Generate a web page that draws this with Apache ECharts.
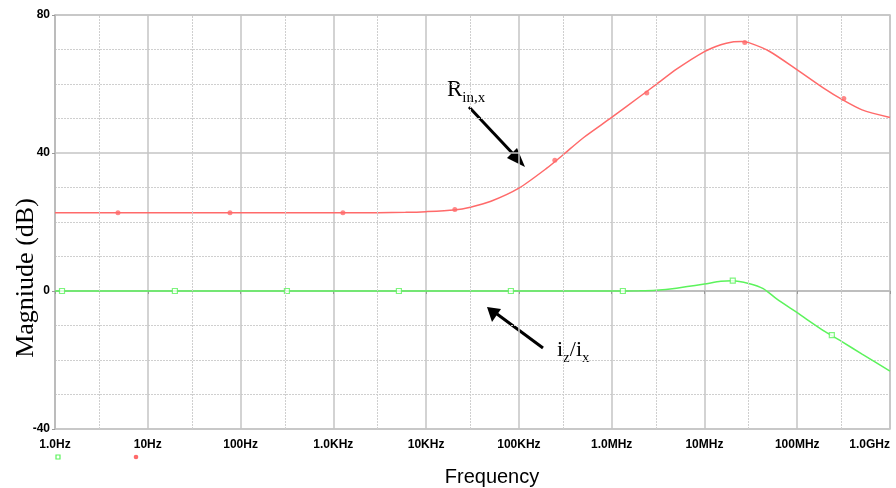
<!DOCTYPE html>
<html>
<head>
<meta charset="utf-8">
<script src="https://cdn.jsdelivr.net/npm/echarts@6/dist/echarts.min.js"></script>
<style>html,body{margin:0;padding:0;background:#fff;overflow:hidden}#c{width:896px;height:488px}</style>
</head>
<body>
<div id="c"></div>
<script>
// Frequencies (Hz) and magnitudes (dB)
const rinFreq = [1, 10, 100, 1e3, 3e3, 6e3, 1e4, 2e4, 3e4, 5e4, 1e5, 2e5, 3e5, 5e5, 1e6, 2e6, 3e6, 5e6, 1e7, 1.5e7, 2e7, 2.5e7, 3e7, 5e7, 1e8, 2e8, 3e8, 5e8, 1e9];
const rinDb   = [22.7, 22.7, 22.7, 22.7, 22.7, 22.8, 23.0, 23.5, 24.3, 26.0, 29.8, 35.6, 39.5, 44.5, 50.3, 56.3, 59.8, 64.3, 69.4, 71.4, 72.2, 72.3, 72.0, 69.5, 64.1, 58.5, 55.6, 52.5, 50.3];
const izFreq  = [1, 10, 100, 1e3, 1e4, 1e5, 1e6, 2e6, 3e6, 5e6, 1e7, 1.5e7, 2e7, 3e7, 4.3e7, 6e7, 1e8, 2e8, 3e8, 5e8, 1e9];
const izDb    = [0, 0, 0, 0, 0, 0, 0, 0.05, 0.2, 0.8, 2.0, 2.8, 3.0, 2.2, 0.7, -2.3, -6.3, -11.8, -14.6, -18.3, -23.2];
// symbol markers placed along the curves
const rinMarkFreq = [4.77, 76.9, 1268, 20400, 2.44e5, 2.39e6, 2.72e7, 3.18e8];
const rinMarkDb   = [22.7, 22.7, 22.7, 23.6, 37.9, 57.4, 72.0, 55.8];
const izMarkFreq  = [1.19, 19.6, 316, 5090, 8.2e4, 1.32e6, 2.02e7, 2.36e8];
const izMarkDb    = [0, 0, 0, 0, 0, 0, 3.0, -12.8];
// axis
const xTickLabels = ['1.0Hz', '10Hz', '100Hz', '1.0KHz', '10KHz', '100KHz', '1.0MHz', '10MHz', '100MHz', '1.0GHz'];
const xMinorGrid = [3, 30, 300, 3e3, 3e4, 3e5, 3e6, 3e7, 3e8];
const yTicks = [-40, 0, 40, 80];

const RED = '#ff6a6a', GREEN = '#5cf35c';
const zip = (a, b) => a.map((v, i) => [v, b[i]]);

const chart = echarts.init(document.getElementById('c'));
chart.setOption({
  animation: false,
  backgroundColor: '#fff',
  grid: { left: 55, right: 6, top: 15, bottom: 59, containLabel: false, outerBoundsMode: 'none',
          show: true, borderColor: '#c4c4c4', borderWidth: 1.5 },
  xAxis: {
    type: 'log', logBase: 10, min: 1, max: 1e9,
    axisLine: { lineStyle: { color: '#b8b8b8', width: 1.5 } },
    axisTick: { show: true, length: 3, lineStyle: { color: '#999' } },
    axisLabel: {
      margin: 10, color: '#000', fontWeight: 'bold', fontSize: 12, fontFamily: 'Liberation Sans, Arial',
      alignMaxLabel: 'right', hideOverlap: false,
      formatter: v => xTickLabels[Math.round(Math.log10(v))]
    },
    splitLine: { show: true, lineStyle: { color: '#c4c4c4', width: 1.5 } }
  },
  yAxis: {
    type: 'value', min: yTicks[0], max: yTicks[yTicks.length - 1], interval: 40,
    axisLine: { show: true, lineStyle: { color: '#b8b8b8', width: 1.5 } },
    axisTick: { show: true, length: 3, lineStyle: { color: '#999' } },
    axisLabel: { margin: 5, color: '#000', fontWeight: 'bold', fontSize: 12, fontFamily: 'Liberation Sans, Arial' },
    splitLine: { show: true, lineStyle: { color: '#c4c4c4', width: 1.5 } },
    minorTick: { show: false, splitNumber: 4 },
    minorSplitLine: { show: true, lineStyle: { color: '#cfcfcf', width: 1, type: [2, 1] } }
  },
  series: [
    {
      type: 'line', data: zip(rinFreq, rinDb), smooth: 0.25, showSymbol: false,
      lineStyle: { color: RED, width: 1.5 }, z: 3,
      markLine: {
        silent: true, symbol: 'none', label: { show: false },
        lineStyle: { color: '#cfcfcf', width: 1, type: [2, 1] },
        data: xMinorGrid.map(v => ({ xAxis: v }))
      }
    },
    {
      type: 'line', data: zip(izFreq, izDb), smooth: 0.25, showSymbol: false,
      lineStyle: { color: GREEN, width: 1.5 }, z: 3
    },
    {
      type: 'scatter', data: zip(rinMarkFreq, rinMarkDb), symbol: 'circle', symbolSize: 5,
      itemStyle: { color: RED }, z: 4
    },
    {
      type: 'scatter', data: zip(izMarkFreq, izMarkDb), symbol: 'rect', symbolSize: 5,
      itemStyle: { color: '#fff', borderColor: GREEN, borderWidth: 1.2 }, z: 4
    }
  ],
  graphic: [
    { type: 'text', x: 26, y: 278, rotation: Math.PI / 2, style: { text: 'Magniude (dB)', font: '26px "Liberation Serif", "Times New Roman", serif', fill: '#000', align: 'center', verticalAlign: 'middle' } },
    { type: 'text', x: 492, y: 477, style: { text: 'Frequency', font: '20px "Liberation Sans", Arial, sans-serif', fill: '#000', align: 'center', verticalAlign: 'middle' } },
    { type: 'rect', shape: { x: 56, y: 455, width: 4, height: 4 }, style: { fill: '#fff', stroke: GREEN, lineWidth: 1.2 } },
    { type: 'circle', shape: { cx: 136, cy: 457, r: 2.3 }, style: { fill: RED } },
    // R_in,x annotation
    { type: 'text', x: 447, y: 101, style: {
        text: '{a|R}{b|in,x}', fill: '#000', verticalAlign: 'bottom',
        rich: { a: { font: '23px "Liberation Serif", "Times New Roman", serif', verticalAlign: 'bottom' },
                b: { font: '15px "Liberation Serif", "Times New Roman", serif', verticalAlign: 'bottom', padding: [0, 0, -5, 0] } } } },
    { type: 'line', shape: { x1: 469, y1: 107, x2: 516, y2: 157 }, style: { stroke: '#000', lineWidth: 3 } },
    { type: 'polygon', shape: { points: [[525, 167], [507, 158], [517, 148]] }, style: { fill: '#000' } },
    // i_z/i_x annotation
    { type: 'text', x: 557, y: 361, style: {
        text: '{a|i}{b|z}{a|/i}{b|x}', fill: '#000', verticalAlign: 'bottom',
        rich: { a: { font: '22px "Liberation Serif", "Times New Roman", serif', verticalAlign: 'bottom' },
                b: { font: '15px "Liberation Serif", "Times New Roman", serif', verticalAlign: 'bottom', padding: [0, 0, -5, 0] } } } },
    { type: 'line', shape: { x1: 543, y1: 348, x2: 497, y2: 314 }, style: { stroke: '#000', lineWidth: 3 } },
    { type: 'polygon', shape: { points: [[487, 307], [492, 322], [501, 309]] }, style: { fill: '#000' } }
  ]
});
</script>
</body>
</html>
